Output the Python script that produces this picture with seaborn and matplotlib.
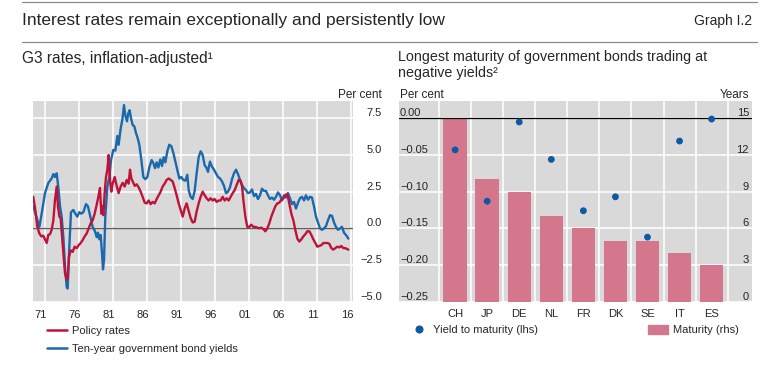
import numpy as np
import pandas as pd
import matplotlib
matplotlib.use('Agg')
import matplotlib.pyplot as plt
import seaborn as sns
from matplotlib.lines import Line2D
from matplotlib.patches import Patch
from matplotlib.transforms import ScaledTranslation
from matplotlib.ticker import MultipleLocator, FixedLocator, FuncFormatter

# G3 rates, inflation-adjusted (per cent)
policy_years = [1970.28, 1970.58, 1970.87, 1971.17, 1971.46, 1971.75, 1972.05, 1972.25, 1972.49, 1972.74,
                1972.98, 1973.23, 1973.47, 1973.72, 1973.91, 1974.11, 1974.30, 1974.50, 1974.70, 1974.94,
                1975.19, 1975.33, 1975.53, 1975.77, 1976.07, 1976.36, 1976.66, 1976.95, 1977.25, 1977.54,
                1977.83, 1978.13, 1978.42, 1978.72, 1979.01, 1979.30, 1979.60, 1979.89, 1980.09, 1980.28,
                1980.43, 1980.58, 1980.77, 1980.97, 1981.17, 1981.36, 1981.56, 1981.75, 1981.95, 1982.25,
                1982.54, 1982.83, 1983.13, 1983.42, 1983.72, 1984.01, 1984.30, 1984.50, 1984.70, 1984.89,
                1985.19, 1985.48, 1985.77, 1986.07, 1986.36, 1986.66, 1986.95, 1987.25, 1987.54, 1987.83,
                1988.13, 1988.42, 1988.72, 1989.01, 1989.30, 1989.60, 1989.89, 1990.19, 1990.48, 1990.77,
                1991.07, 1991.36, 1991.66, 1991.95, 1992.25, 1992.54, 1992.83, 1993.13, 1993.42, 1993.72,
                1994.01, 1994.30, 1994.60, 1994.89, 1995.19, 1995.48, 1995.77, 1996.07, 1996.36, 1996.66,
                1996.95, 1997.25, 1997.54, 1997.83, 1998.13, 1998.42, 1998.72, 1999.01, 1999.30, 1999.60,
                1999.89, 2000.19, 2000.48, 2000.77, 2000.97, 2001.17, 2001.46, 2001.75, 2002.05, 2002.34,
                2002.64, 2002.93, 2003.23, 2003.52, 2003.81, 2004.11, 2004.40, 2004.70, 2004.99, 2005.28,
                2005.58, 2005.87, 2006.17, 2006.46, 2006.75, 2007.05, 2007.34, 2007.64, 2007.93, 2008.23,
                2008.52, 2008.81, 2009.11, 2009.40, 2009.70, 2009.99, 2010.28, 2010.58, 2010.87, 2011.17,
                2011.46, 2011.75, 2012.05, 2012.34, 2012.64, 2012.93, 2013.23, 2013.52, 2013.81, 2014.11,
                2014.40, 2014.70, 2014.99, 2015.28, 2015.58, 2015.87, 2016.17, 2016.61]
policy_rates = [2.15, 1.25, 0.1, -0.35, -0.55, -0.5, -0.8, -1.0, -0.45, -0.4,
                -0.1, 0.55, 1.95, 2.85, 1.5, 0.8, 0.7, -0.55, -1.7, -3.05,
                -3.5, -3.4, -1.95, -1.5, -1.6, -1.25, -1.35, -1.15, -1.0, -0.8,
                -0.55, -0.35, 0.0, 0.35, 0.55, 1.0, 1.6, 2.25, 2.75, 1.0,
                1.5, 0.9, 2.4, 3.5, 4.0, 5.0, 3.3, 2.5, 3.05, 3.5,
                2.9, 2.4, 2.85, 3.1, 2.85, 3.3, 3.05, 4.0, 3.4, 3.2,
                2.9, 3.0, 2.8, 2.5, 2.15, 1.75, 1.7, 1.9, 1.65, 1.8,
                1.7, 2.0, 2.25, 2.5, 2.85, 3.05, 3.3, 3.4, 3.3, 3.2,
                2.75, 2.25, 1.7, 1.25, 0.8, 1.35, 1.7, 1.2, 0.7, 0.4,
                0.45, 1.15, 1.7, 2.15, 2.5, 2.25, 2.05, 1.9, 2.05, 1.9,
                2.0, 1.8, 1.9, 1.9, 2.15, 1.9, 2.05, 1.9, 2.15, 2.4,
                2.6, 2.95, 3.3, 3.25, 2.9, 1.95, 0.8, 0.1, 0.1, 0.25,
                0.1, 0.1, 0.05, 0.0, 0.05, -0.05, -0.2, 0.0, 0.35, 0.8,
                1.15, 1.5, 1.7, 1.75, 1.95, 2.05, 2.25, 2.35, 1.7, 1.0,
                0.55, -0.1, -0.7, -0.9, -0.75, -0.55, -0.4, -0.2, -0.2, -0.45,
                -0.75, -1.0, -1.25, -1.2, -1.15, -1.0, -1.0, -1.0, -1.05, -1.35,
                -1.45, -1.35, -1.25, -1.3, -1.2, -1.35, -1.35, -1.45]

bond_years = [1970.28, 1971.17, 1971.51, 1972.00, 1972.49, 1972.98, 1973.23, 1973.47, 1973.72, 1973.96,
              1974.21, 1974.45, 1974.70, 1974.94, 1975.19, 1975.33, 1975.58, 1975.82, 1976.17, 1976.46,
              1976.75, 1977.05, 1977.34, 1977.64, 1978.03, 1978.32, 1978.62, 1979.01, 1979.35, 1979.60,
              1979.79, 1979.99, 1980.19, 1980.38, 1980.53, 1980.68, 1980.87, 1981.17, 1981.46, 1981.71,
              1982.05, 1982.34, 1982.64, 1982.83, 1983.13, 1983.37, 1983.62, 1983.81, 1984.06, 1984.25,
              1984.45, 1984.65, 1984.89, 1985.14, 1985.38, 1985.63, 1985.87, 1986.17, 1986.46, 1986.75,
              1987.05, 1987.34, 1987.69, 1987.93, 1988.18, 1988.42, 1988.67, 1988.96, 1989.21, 1989.45,
              1989.70, 1989.99, 1990.28, 1990.58, 1990.87, 1991.17, 1991.46, 1991.75, 1992.05, 1992.34,
              1992.64, 1992.93, 1993.13, 1993.42, 1993.72, 1994.01, 1994.30, 1994.60, 1994.89, 1995.19,
              1995.48, 1995.73, 1995.97, 1996.26, 1996.56, 1996.85, 1997.15, 1997.44, 1997.74, 1998.03,
              1998.32, 1998.62, 1998.91, 1999.21, 1999.50, 1999.79, 2000.09, 2000.38, 2000.68, 2000.97,
              2001.26, 2001.56, 2001.85, 2002.15, 2002.44, 2002.74, 2003.03, 2003.32, 2003.62, 2003.91,
              2004.21, 2004.50, 2004.79, 2005.09, 2005.38, 2005.68, 2005.97, 2006.26, 2006.56, 2006.85,
              2007.15, 2007.44, 2007.74, 2008.03, 2008.32, 2008.62, 2008.91, 2009.21, 2009.50, 2009.79,
              2010.09, 2010.38, 2010.68, 2010.97, 2011.26, 2011.56, 2011.85, 2012.15, 2012.44, 2012.74,
              2013.03, 2013.32, 2013.62, 2013.91, 2014.21, 2014.50, 2014.79, 2015.09, 2015.38, 2015.68,
              2015.97, 2016.26, 2016.61]
bond_yields = [1.5, 0.1, 1.0, 2.4, 3.1, 3.4, 3.7, 3.5, 3.75, 2.8,
               1.5, 0.8, -0.6, -2.6, -4.0, -4.1, -1.25, 1.1, 1.25, 1.0,
               0.8, 1.1, 1.0, 1.1, 1.65, 1.5, 0.9, 0.1, -0.2, -0.6,
               -0.3, -0.75, -0.45, -1.7, -2.8, -2.15, 0.8, 2.85, 3.5, 4.65,
               5.35, 5.3, 6.3, 5.7, 6.8, 7.4, 8.4, 7.7, 7.3, 7.85,
               8.05, 7.5, 7.05, 6.95, 6.5, 6.15, 5.7, 4.65, 3.5, 3.35,
               3.5, 4.15, 4.65, 4.45, 4.1, 4.5, 4.15, 4.7, 4.25, 4.85,
               4.5, 5.25, 5.7, 5.6, 5.15, 4.55, 3.95, 3.4, 3.5, 3.3,
               3.25, 3.65, 2.6, 2.15, 2.0, 2.55, 3.75, 4.85, 5.25, 5.0,
               4.3, 4.15, 3.85, 4.55, 4.2, 4.0, 3.75, 3.5, 3.4, 3.2,
               2.9, 2.4, 2.5, 2.8, 3.35, 3.75, 4.0, 3.7, 3.3, 2.95,
               2.75, 2.6, 2.4, 2.45, 2.65, 2.2, 2.35, 2.0, 2.25, 2.7,
               2.55, 2.55, 2.25, 2.0, 2.1, 1.95, 2.15, 2.45, 2.25, 1.9,
               2.25, 2.1, 2.4, 2.05, 1.65, 1.8, 1.35, 1.75, 2.05, 2.15,
               1.9, 2.25, 1.95, 2.15, 2.1, 1.5, 0.8, 0.4, 0.0, -0.1,
               0.0, 0.15, 0.55, 0.9, 0.85, 0.4, 0.1, -0.1, 0.0, 0.1,
               -0.3, -0.45, -0.7]

# Longest maturity of government bonds trading at negative yields
countries = ['CH', 'JP', 'DE', 'NL', 'FR', 'DK', 'SE', 'IT', 'ES']
maturity_years = [15, 10, 9, 7, 6, 5, 5, 4, 3]
yield_to_maturity = [-0.043, -0.113, -0.005, -0.056, -0.126, -0.107, -0.162, -0.031, -0.001]

RED = '#bf1239'
BLUE = '#1b68ad'
PINK = '#d4778c'
DOT = '#0d59a3'
BG = '#d9d9d9'

sns.set_style('white', {'axes.facecolor': BG, 'grid.color': 'white'})
plt.rcParams['font.family'] = ['Liberation Sans', 'DejaVu Sans']
plt.rcParams['font.size'] = 8
HEAD = ['Liberation Sans', 'DejaVu Sans']

W, H = 764, 366
fig = plt.figure(figsize=(W / 100, H / 100), dpi=100)


def fx(px):
    return px / W


def fy(py):
    return 1 - py / H


# ---- left panel: time series
ax = fig.add_axes([fx(33.3), fy(301.7), 320 / W, 200.7 / H])
lines = pd.concat([
    pd.DataFrame({'year': bond_years, 'rate': bond_yields, 'series': 'Ten-year government bond yields'}),
    pd.DataFrame({'year': policy_years, 'rate': policy_rates, 'series': 'Policy rates'}),
])
sns.lineplot(data=lines, x='year', y='rate', hue='series',
             palette={'Policy rates': RED, 'Ten-year government bond yields': BLUE},
             estimator=None, sort=False, linewidth=1.7, legend=False, ax=ax)
ax.axhline(0, color='#5e5e5e', lw=1.0, zorder=1.8)
ax.set_xlim(1970.28, 2017.34)
ax.set_ylim(-5, 8.68)
ax.set_xlabel('')
ax.set_ylabel('')
for s in ax.spines.values():
    s.set_visible(False)
ax.xaxis.set_major_locator(FixedLocator(np.arange(1972, 2018, 5)))
ax.xaxis.set_minor_locator(FixedLocator(np.arange(1971, 2018)))
ax.xaxis.set_major_formatter(FuncFormatter(lambda v, p: f"{int(round(v)) - 1}"[-2:]))
ax.yaxis.set_major_locator(MultipleLocator(2.5))
ax.yaxis.tick_right()
ax.grid(True, which='major', color='white', lw=1.1)
ax.tick_params(axis='x', which='major', direction='in', length=4.5, width=0.8, color='#555555', pad=6)
ax.tick_params(axis='x', which='minor', direction='in', length=2.5, width=0.8, color='#555555')
ax.tick_params(axis='y', length=0, pad=20.7)
shift = ScaledTranslation(-4 / 100, 0, fig.dpi_scale_trans)
for lab in ax.get_xticklabels():
    lab.set_transform(lab.get_transform() + shift)
for t in ax.yaxis.get_major_ticks():
    t.label2.set_ha('right')
    t.label2.set_va('bottom')

# ---- right panel: bars (rhs) and dots (lhs)
axr = fig.add_axes([fx(399), fy(301.7), 352.7 / W, 200.7 / H])
sns.barplot(x=countries, y=maturity_years, color=PINK, saturation=1, width=0.73,
            linewidth=0, ax=axr)
ax2 = axr.twinx()
sns.scatterplot(x=np.arange(len(countries)), y=yield_to_maturity, color=DOT, s=24,
                edgecolor='none', ax=ax2, zorder=3)
ax2.axhline(0, color='black', lw=0.9)
axr.set_xlim(-1.75, 9.25)
axr.set_ylim(0, 16.42)
ax2.set_ylim(-0.25, 0.0236)
for a in (axr, ax2):
    a.set_xlabel('')
    a.set_ylabel('')
    for s in a.spines.values():
        s.set_visible(False)
axr.yaxis.tick_right()
ax2.yaxis.tick_left()
axr.yaxis.set_major_locator(MultipleLocator(3))
ax2.yaxis.set_major_locator(MultipleLocator(0.05))
axr.xaxis.set_minor_locator(FixedLocator(np.arange(len(countries) + 1) - 0.5))
axr.grid(True, which='minor', axis='x', color='white', lw=1.1)
axr.grid(True, which='major', axis='y', color='white', lw=1.1)
axr.set_axisbelow(True)
ax2.grid(False)
axr.tick_params(axis='x', which='both', length=0, pad=5)
axr.tick_params(axis='y', length=0, pad=-1.9)
ax2.tick_params(axis='y', length=0, pad=-0.7)
for t in axr.yaxis.get_major_ticks():
    t.label2.set_ha('right')
    t.label2.set_va('bottom')
for t in ax2.yaxis.get_major_ticks():
    t.label1.set_ha('left')
    t.label1.set_va('bottom')

# ---- headings
fig.add_artist(Line2D([fx(22), fx(757)], [fy(1.5), fy(1.5)], color='#8a8a8a', lw=0.9))
fig.add_artist(Line2D([fx(22), fx(757)], [fy(42), fy(42)], color='#8a8a8a', lw=0.9))
fig.text(fx(22), fy(21), 'Interest rates remain exceptionally and persistently low',
         family=HEAD, fontsize=12.5, va='center')
fig.text(fx(752), fy(21), 'Graph I.2', family=HEAD, fontsize=10, ha='right', va='center')
fig.text(fx(22), fy(58), 'G3 rates, inflation-adjusted\u00b9', family=HEAD, fontsize=11.2, va='center')
fig.text(fx(398), fy(50), 'Longest maturity of government bonds trading at\nnegative yields\u00b2',
         family=HEAD, fontsize=10.3, va='top', linespacing=1.2)
fig.text(fx(382), fy(94.5), 'Per cent', family=HEAD, fontsize=8.5, ha='right', va='center')
fig.text(fx(400), fy(94.5), 'Per cent', family=HEAD, fontsize=8.5, ha='left', va='center')
fig.text(fx(749), fy(94.5), 'Years', family=HEAD, fontsize=8.5, ha='right', va='center')

# ---- legends
fig.legend(handles=[Line2D([], [], color=RED, lw=1.8, label='Policy rates'),
                    Line2D([], [], color=BLUE, lw=1.8, label='Ten-year government bond yields')],
           loc='upper left', bbox_to_anchor=(fx(47), fy(325.5)), frameon=False, fontsize=8,
           handlelength=1.8, handletextpad=0.45, labelspacing=0.75, borderpad=0, borderaxespad=0)
fig.legend(handles=[Line2D([], [], marker='o', ls='', color=DOT, markersize=4.8,
                           label='Yield to maturity (lhs)')],
           loc='upper left', bbox_to_anchor=(fx(413.5), fy(325)), frameon=False, fontsize=8,
           handlelength=1.0, handletextpad=0.75, borderpad=0, borderaxespad=0)
fig.legend(handles=[Patch(color=PINK, label='Maturity (rhs)')],
           loc='upper left', bbox_to_anchor=(fx(648), fy(325)), frameon=False, fontsize=8,
           handlelength=1.8, handleheight=0.9, handletextpad=0.45, borderpad=0, borderaxespad=0)

fig.savefig('out.png', dpi=100)
